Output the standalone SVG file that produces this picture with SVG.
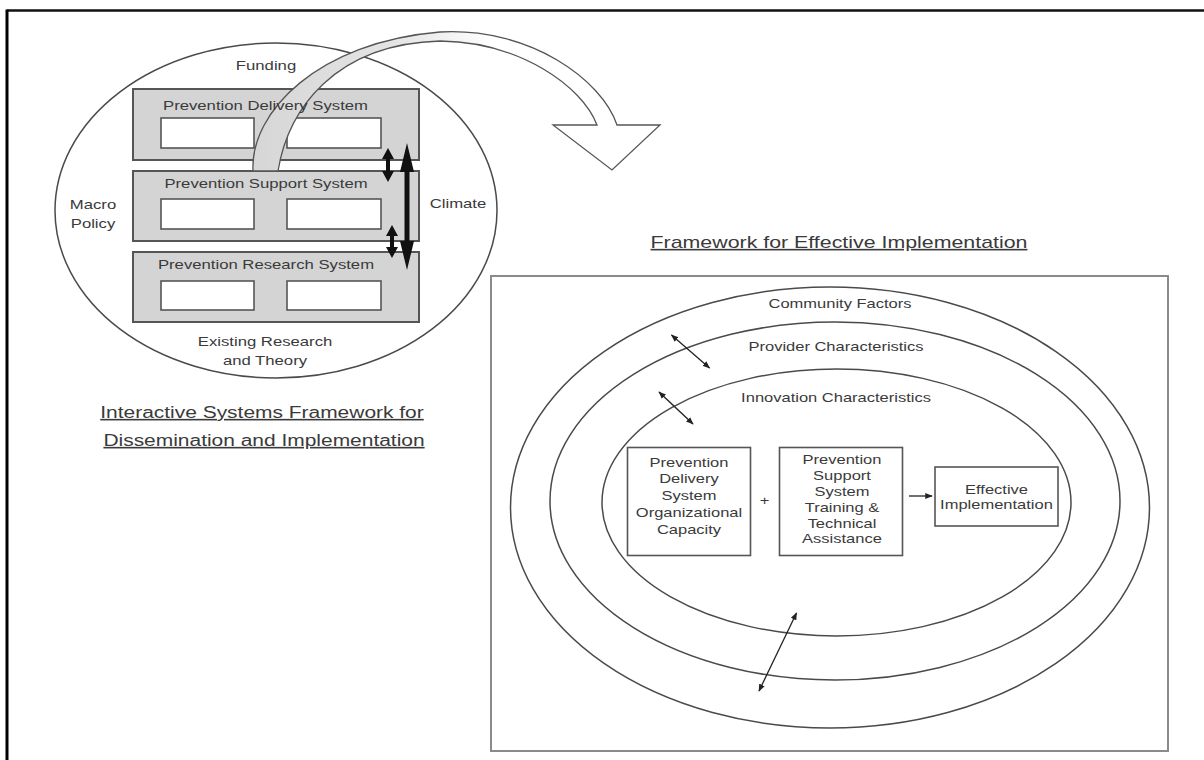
<svg xmlns="http://www.w3.org/2000/svg" width="1204" height="760" viewBox="0 0 1204 760">
<style>
  .t { font-family: "Liberation Sans", Arial, sans-serif; font-size: 13px; fill: #3a3a3a; text-anchor: middle; }
  .h { font-family: "Liberation Sans", Arial, sans-serif; font-size: 16px; fill: #3a3a3a; text-anchor: middle; text-decoration: underline; }
  .ell { fill: none; stroke: #4a4a4a; stroke-width: 1.5; }
  .gray { fill: #d4d4d4; stroke: #555; stroke-width: 2; }
  .wbox { fill: #fff; stroke: #555; stroke-width: 1.6; }
  .box { fill: #fff; stroke: #555; stroke-width: 1.6; }
  .thin { fill: none; stroke: #222; stroke-width: 1.3; }
  .blk { fill: #111; stroke: none; }
</style>
<defs>
  <marker id="ah" viewBox="0 0 10 10" refX="9" refY="5" markerWidth="7.5" markerHeight="7.5" orient="auto-start-reverse" markerUnits="userSpaceOnUse">
    <path d="M0,1 L10,5 L0,9 Z" fill="#222"/>
  </marker>
  <linearGradient id="bandg" x1="250" y1="0" x2="660" y2="0" gradientUnits="userSpaceOnUse">
    <stop offset="0" stop-color="#d6d6d6"/>
    <stop offset="0.35" stop-color="#e4e4e4"/>
    <stop offset="0.6" stop-color="#ffffff"/>
    <stop offset="1" stop-color="#ffffff"/>
  </linearGradient>
</defs>
<rect width="1204" height="760" fill="#fff"/>

<g id="frame">
  <line x1="7" y1="10.5" x2="1204" y2="10.5" stroke="#111" stroke-width="2.5"/>
  <line x1="7" y1="9.5" x2="7" y2="760" stroke="#000" stroke-width="3"/>
</g>

<g id="isf-context">
  <ellipse class="ell" cx="276" cy="210.5" rx="221" ry="167.5"/>
  <text class="t" transform="translate(266,70) scale(1.285,1)">Funding</text>
  <text class="t" transform="translate(93,209) scale(1.285,1)">Macro</text>
  <text class="t" transform="translate(93,228) scale(1.285,1)">Policy</text>
  <text class="t" transform="translate(458,208) scale(1.285,1)">Climate</text>
  <text class="t" transform="translate(265,346) scale(1.285,1)">Existing Research</text>
  <text class="t" transform="translate(265,365) scale(1.285,1)">and Theory</text>
</g>

<g id="delivery-system">
  <rect class="gray" x="133" y="89" width="286" height="71"/>
  <rect class="wbox" x="161" y="118" width="93" height="30"/>
  <rect class="wbox" x="287" y="118" width="94" height="30"/>
</g>

<g id="support-system">
  <rect class="gray" x="133" y="171" width="286" height="70"/>
  <text class="t" transform="translate(266,188) scale(1.285,1)">Prevention Support System</text>
  <rect class="wbox" x="161" y="199" width="93" height="30"/>
  <rect class="wbox" x="287" y="199" width="94" height="30"/>
</g>

<g id="research-system">
  <rect class="gray" x="133" y="252" width="286" height="70"/>
  <text class="t" transform="translate(266,269) scale(1.285,1)">Prevention Research System</text>
  <rect class="wbox" x="161" y="281" width="93" height="29"/>
  <rect class="wbox" x="287" y="281" width="94" height="29"/>
</g>

<g id="isf-title">
  <text class="h" transform="translate(262,418) scale(1.31,1)">Interactive Systems Framework for</text>
  <text class="h" transform="translate(264,446) scale(1.31,1)">Dissemination and Implementation</text>
</g>

<g id="fei-title">
  <text class="h" transform="translate(839,248) scale(1.335,1)">Framework for Effective Implementation</text>
</g>

<g id="fei-panel">
  <rect x="491" y="276" width="677" height="475" fill="none" stroke="#8a8a8a" stroke-width="2"/>
</g>

<g id="community-factors">
  <ellipse class="ell" cx="830" cy="507.5" rx="319.5" ry="220.5"/>
  <text class="t" transform="translate(840,308) scale(1.27,1)">Community Factors</text>
</g>

<g id="provider-characteristics">
  <ellipse class="ell" cx="835" cy="501" rx="285" ry="179"/>
  <text class="t" transform="translate(836,350.5) scale(1.27,1)">Provider Characteristics</text>
</g>

<g id="innovation-characteristics">
  <ellipse class="ell" cx="836.5" cy="502.5" rx="234.5" ry="133.5"/>
  <text class="t" transform="translate(836,401.5) scale(1.27,1)">Innovation Characteristics</text>
</g>

<g id="org-capacity">
  <rect class="box" x="627.5" y="447.5" width="123" height="108"/>
  <text class="t" transform="translate(689,466.5) scale(1.27,1)">Prevention</text>
  <text class="t" transform="translate(689,483) scale(1.27,1)">Delivery</text>
  <text class="t" transform="translate(689,499.5) scale(1.27,1)">System</text>
  <text class="t" transform="translate(689,516.5) scale(1.27,1)">Organizational</text>
  <text class="t" transform="translate(689,533.5) scale(1.27,1)">Capacity</text>
</g>

<g id="training-ta">
  <rect class="box" x="779.5" y="447.5" width="123" height="108"/>
  <text class="t" transform="translate(842,464) scale(1.27,1)">Prevention</text>
  <text class="t" transform="translate(842,479.8) scale(1.27,1)">Support</text>
  <text class="t" transform="translate(842,495.5) scale(1.27,1)">System</text>
  <text class="t" transform="translate(842,511.5) scale(1.27,1)">Training &amp;</text>
  <text class="t" transform="translate(842,527.5) scale(1.27,1)">Technical</text>
  <text class="t" transform="translate(842,543) scale(1.27,1)">Assistance</text>
</g>

<g id="effective-implementation">
  <rect class="box" x="935" y="467" width="123" height="59"/>
  <text class="t" transform="translate(996.5,493.5) scale(1.27,1)">Effective</text>
  <text class="t" transform="translate(996.5,509) scale(1.27,1)">Implementation</text>
</g>

<g id="plus">
  <text class="t" transform="translate(764.5,504.5) scale(1.27,1)">+</text>
</g>

<g id="connectors">
  <path d="M253,171 C250,112 318,42 440,32 C530,27 602,80 617,125 L660,125 L612,170 L553,125 L597,125 C582,86 520,42 440,41 C334,44 288,110 278,171 Z" fill="url(#bandg)" stroke="#555" stroke-width="1.3" stroke-linejoin="miter"/>
  <path class="blk" d="M407,143 L414,172 L409.5,172 L409.5,241 L414,241 L407,270 L400,241 L404.5,241 L404.5,172 L400,172 Z"/>
  <path class="blk" d="M388,148 L394,159 L390,159 L390,171 L394,171 L388,182 L382,171 L386,171 L386,159 L382,159 Z"/>
  <path class="blk" d="M392,225 L398,236 L394,236 L394,247 L398,247 L392,258 L386,247 L390,247 L390,236 L386,236 Z"/>
  <line class="thin" x1="671.5" y1="335" x2="709.5" y2="368" marker-start="url(#ah)" marker-end="url(#ah)"/>
  <line class="thin" x1="659" y1="392" x2="693" y2="424" marker-start="url(#ah)" marker-end="url(#ah)"/>
  <line class="thin" x1="796.5" y1="613" x2="759" y2="691" marker-start="url(#ah)" marker-end="url(#ah)"/>
  <line class="thin" x1="909" y1="496" x2="932" y2="496" marker-end="url(#ah)"/>
</g>

<g id="delivery-system-label">
  <text class="t" transform="translate(265.5,110) scale(1.285,1)">Prevention Delivery System</text>
</g>
</svg>
